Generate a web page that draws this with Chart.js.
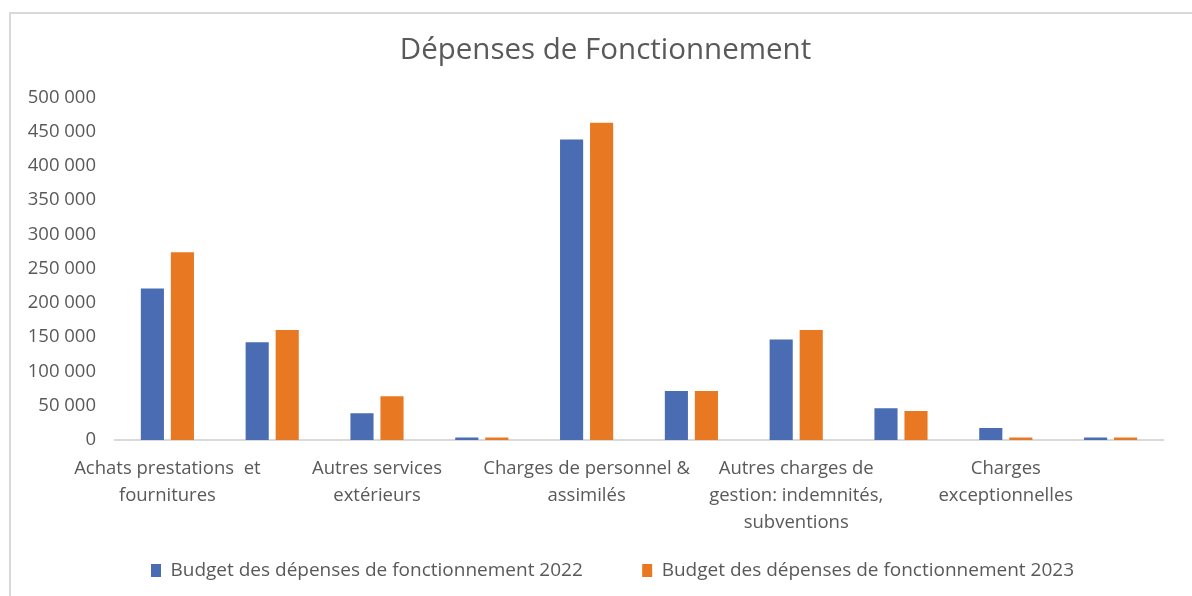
<!DOCTYPE html>
<html>
<head>
<meta charset="utf-8">
<script src="https://cdn.jsdelivr.net/npm/chart.js@4"></script>
<style>
  html, body { margin: 0; padding: 0; background: #fff; overflow: hidden; }
  #frame { position: absolute; left: 9px; top: 12px; width: 1200px; height: 600px; border: 2px solid #d9d9d9; box-sizing: border-box; }
  #wrap { position: absolute; left: 0; top: 0; width: 1192px; height: 596px; }
</style>
</head>
<body>
<div id="frame"></div>
<div id="wrap"><canvas id="chart"></canvas></div>
<script>
// Excel hid every other category label, so those stay blank
const categories = [
    ["Achats prestations  et", "fournitures"], "",
    ["Autres services", "extérieurs"], "",
    ["Charges de personnel &", "assimilés"], "",
    ["Autres charges de", "gestion: indemnités,", "subventions"], "",
    ["Charges", "exceptionnelles"], ""
];
const budget2022 = [221000, 142500, 39000, 3500, 438500, 71500, 146500, 46500, 17500, 3500];
const budget2023 = [274000, 160500, 64000, 3500, 463000, 71500, 160500, 42500, 3500, 3500];
const seriesNames = ["Budget des dépenses de fonctionnement 2022", "Budget des dépenses de fonctionnement 2023"];
const yTicks = [0, 50000, 100000, 150000, 200000, 250000, 300000, 350000, 400000, 450000, 500000];

const textColor = "#595959";
const fontFamily = "'Open Sans', 'Liberation Sans', sans-serif";

function formatNumber(v) {
    return String(v).replace(/\B(?=(\d{3})+(?!\d))/g, " ");
}

// title and legend sit a bit right of the canvas centre in the original
const nudgeBoxes = {
    id: "nudgeBoxes",
    afterLayout(chart) {
        chart.legend.left += 22;
        chart.legend.right += 22;
        chart.titleBlock.left += 15;
        chart.titleBlock.right += 15;
    }
};

const ctx = document.getElementById("chart").getContext("2d");
new Chart(ctx, {
    type: "bar",
    data: {
        labels: categories,
        datasets: [
            { label: seriesNames[0], data: budget2022, backgroundColor: "#4a6cb2" },
            { label: seriesNames[1], data: budget2023, backgroundColor: "#e97823" }
        ]
    },
    options: {
        responsive: true,
        maintainAspectRatio: false,
        animation: false,
        categoryPercentage: 0.573,
        barPercentage: 0.77,
        layout: { padding: { left: 18, right: 29, top: 12, bottom: 6 } },
        plugins: {
            title: {
                display: true,
                text: "Dépenses de Fonctionnement",
                color: textColor,
                font: { family: fontFamily, size: 29.5, weight: "normal" },
                padding: { top: 21, bottom: 29 }
            },
            legend: {
                position: "bottom",
                labels: {
                    color: textColor,
                    font: { family: fontFamily, size: 19 },
                    boxWidth: 10,
                    boxHeight: 13,
                    padding: 10,
                    // wider gap between the two entries, as in the original
                    generateLabels: chart => {
                        const items = Chart.defaults.plugins.legend.labels.generateLabels(chart);
                        items[0].text = items[0].text + " ".repeat(10);
                        return items;
                    }
                }
            },
            tooltip: { enabled: false }
        },
        scales: {
            x: {
                grid: { display: false, drawTicks: false },
                border: { color: "#d9d9d9", width: 2 },
                ticks: {
                    autoSkip: false,
                    maxRotation: 0,
                    minRotation: 0,
                    padding: 15,
                    color: textColor,
                    font: { family: fontFamily, size: 18.5, lineHeight: 1.47 }
                },
                afterFit: scale => { scale.height = 111; }
            },
            y: {
                min: 0,
                max: 500000,
                grid: { display: false, drawTicks: false },
                border: { display: false },
                afterBuildTicks: scale => { scale.ticks = yTicks.map(v => ({ value: v })); },
                ticks: {
                    padding: 19,
                    color: textColor,
                    font: { family: fontFamily, size: 18.5 },
                    callback: v => formatNumber(v)
                },
                afterFit: scale => { scale.width = 97; }
            }
        }
    },
    plugins: [nudgeBoxes]
});
</script>
</body>
</html>
